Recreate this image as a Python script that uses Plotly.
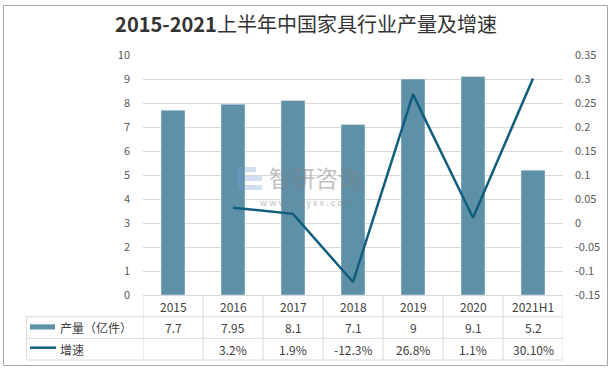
import plotly.graph_objects as go

categories = ["2015", "2016", "2017", "2018", "2019", "2020", "2021H1"]
output = [7.7, 7.95, 8.1, 7.1, 9, 9.1, 5.2]
growth = [None, 0.032, 0.019, -0.123, 0.268, 0.011, 0.301]
output_labels = ["7.7", "7.95", "8.1", "7.1", "9", "9.1", "5.2"]
growth_labels = ["", "3.2%", "1.9%", "-12.3%", "26.8%", "1.1%", "30.10%"]
left_ticks = list(range(0, 11))
right_ticks = [-0.15, -0.1, -0.05, 0, 0.05, 0.1, 0.15, 0.2, 0.25, 0.3, 0.35]
right_tick_text = ["-0.15", "-0.1", "-0.05", "0", "0.05", "0.1", "0.15", "0.2", "0.25", "0.3", "0.35"]
series_names = ["产量（亿件）", "增速"]
title = "<b>2015-2021</b>上半年中国家具行业产量及增速"

BAR = "#5e90a8"
LINE = "#115d7d"
GRID = "#d9d9d9"
FONT = "Noto Sans CJK SC, Liberation Sans, sans-serif"

# plot area in pixels
L, R, T, B = 143, 563, 55, 295
W, H = 612, 373
pw, ph = R - L, B - T

def px(xp):
    return (xp - L) / pw

def py(yp):
    return (B - yp) / ph

fig = go.Figure()
fig.add_trace(go.Bar(x=categories, y=output, marker_color=BAR, width=0.4,
                     name=series_names[0], showlegend=False, hoverinfo="skip"))
fig.add_trace(go.Scatter(x=categories, y=growth, yaxis="y2", mode="lines",
                         line=dict(color=LINE, width=2.5), name=series_names[1],
                         showlegend=False, connectgaps=False, hoverinfo="skip"))

shapes = []
annotations = []
lc = dict(color=GRID, width=1)
# table lines
row_lines = [316.7, 338.3, 360]
for yl in row_lines:
    shapes.append(dict(type="line", xref="paper", yref="paper", x0=px(26.7), x1=1,
                       y0=py(yl), y1=py(yl), line=lc))
shapes.append(dict(type="line", xref="paper", yref="paper", x0=px(26.7), x1=px(26.7),
                   y0=py(316.7), y1=py(360), line=lc))
for i in range(len(categories) + 1):
    xv = i - 0.5
    shapes.append(dict(type="line", xref="x", yref="paper", x0=xv, x1=xv,
                       y0=0, y1=py(360), line=lc))
# legend swatches
shapes.append(dict(type="rect", xref="paper", yref="paper", x0=px(30), x1=px(55),
                   y0=py(324.3), y1=py(329.5), fillcolor=BAR, line=dict(width=0)))
shapes.append(dict(type="line", xref="paper", yref="paper", x0=px(30), x1=px(56),
                   y0=py(347.7), y1=py(347.7), line=dict(color=LINE, width=2.5)))
# outer border
shapes.append(dict(type="rect", xref="paper", yref="paper", x0=px(3.5), x1=px(607.5),
                   y0=py(365.5), y1=py(5.5), line=dict(color="#a6a6a6", width=1),
                   fillcolor="rgba(0,0,0,0)", layer="below"))
# watermark logo
wm = "rgba(120,160,210,0.35)"
shapes.append(dict(type="rect", xref="paper", yref="paper", x0=px(237), x1=px(243),
                   y0=py(190), y1=py(167), fillcolor=wm, line=dict(width=0)))
shapes.append(dict(type="rect", xref="paper", yref="paper", x0=px(245), x1=px(256),
                   y0=py(172), y1=py(167), fillcolor=wm, line=dict(width=0)))
shapes.append(dict(type="rect", xref="paper", yref="paper", x0=px(245), x1=px(262),
                   y0=py(181), y1=py(176), fillcolor=wm, line=dict(width=0)))
shapes.append(dict(type="rect", xref="paper", yref="paper", x0=px(245), x1=px(262),
                   y0=py(190), y1=py(185), fillcolor=wm, line=dict(width=0)))

tf = dict(family=FONT, size=12, color="#404040")
for i, c in enumerate(categories):
    annotations.append(dict(x=i, xref="x", y=py(306.5), yref="paper", text=c,
                            showarrow=False, font=tf, xanchor="center", yanchor="middle"))
    annotations.append(dict(x=i, xref="x", y=py(327.5), yref="paper", text=output_labels[i],
                            showarrow=False, font=tf, xanchor="center", yanchor="middle"))
    annotations.append(dict(x=i, xref="x", y=py(349), yref="paper", text=growth_labels[i],
                            showarrow=False, font=tf, xanchor="center", yanchor="middle"))
annotations.append(dict(x=px(58), xref="paper", y=py(327.5), yref="paper", text=series_names[0],
                        showarrow=False, font=tf, xanchor="left", yanchor="middle"))
annotations.append(dict(x=px(58), xref="paper", y=py(349), yref="paper", text=series_names[1],
                        showarrow=False, font=tf, xanchor="left", yanchor="middle"))
# watermark text
annotations.append(dict(x=px(267), xref="paper", y=py(177), yref="paper", text="智研咨询",
                        showarrow=False, xanchor="left", yanchor="middle",
                        font=dict(family=FONT, size=23, color="rgba(130,130,130,0.5)")))
annotations.append(dict(x=px(306), xref="paper", y=py(202), yref="paper",
                        text="w w w . c h y x x . c o m",
                        showarrow=False, xanchor="center", yanchor="middle",
                        font=dict(family=FONT, size=9, color="rgba(130,130,130,0.55)")))

fig.update_layout(
    width=W, height=H,
    margin=dict(l=L, r=W - R, t=T, b=H - B, pad=0),
    paper_bgcolor="white", plot_bgcolor="white",
    title=dict(text=title, x=0.5, xref="container", xanchor="center", y=1 - 25 / H,
               yref="container", yanchor="middle",
               font=dict(family=FONT, size=20, color="#333333")),
    font=dict(family=FONT),
    xaxis=dict(type="category", range=[-0.5, 6.5], showticklabels=False, ticks="",
               showline=True, linecolor=GRID, linewidth=1, showgrid=False, zeroline=False),
    yaxis=dict(range=[0, 10], tickvals=left_ticks, showgrid=True, gridcolor=GRID, gridwidth=1,
               zeroline=False, showline=False, ticks="", ticklabelstandoff=12,
               tickfont=dict(family=FONT, size=11, color="#595959")),
    yaxis2=dict(range=[-0.15, 0.35], overlaying="y", side="right", tickvals=right_ticks,
                ticktext=right_tick_text, showgrid=False, zeroline=False, showline=False,
                ticks="", ticklabelstandoff=11,
                tickfont=dict(family=FONT, size=11, color="#595959")),
    shapes=shapes,
    annotations=annotations,
)

fig.write_html("out.html", config={"displayModeBar": False},
               post_script="document.body.style.margin='0';")
